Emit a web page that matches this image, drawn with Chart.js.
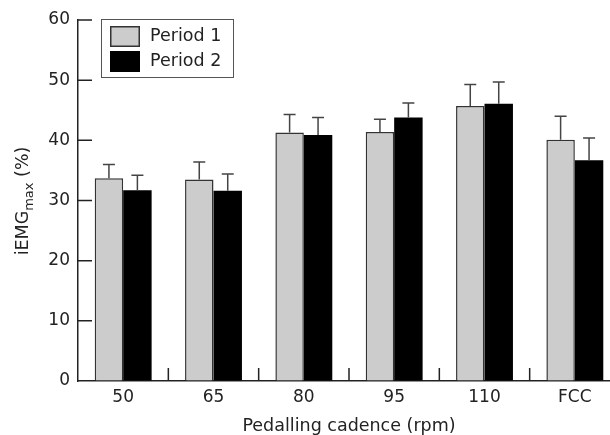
<!DOCTYPE html>
<html>
<head>
<meta charset="utf-8">
<script src="https://cdn.jsdelivr.net/npm/chart.js@4/dist/chart.umd.min.js"></script>
<style>
  html, body { margin: 0; padding: 0; background: #fff; overflow: hidden; }
  #wrap { width: 630px; height: 435px; }
</style>
</head>
<body>
<div id="wrap"><canvas id="emgChart" width="630" height="435"></canvas></div>
<script>
// Data
const cadences = ['50', '65', '80', '95', '110', 'FCC'];
const period1 = [33.7, 33.5, 41.3, 41.4, 45.7, 40.1];
const period2 = [31.7, 31.6, 40.9, 43.8, 46.1, 36.7];
const period1Err = [2.3, 2.9, 3.0, 2.1, 3.6, 3.9];
const period2Err = [2.5, 2.8, 2.9, 2.4, 3.6, 3.7];
const yTicks = [0, 10, 20, 30, 40, 50, 60];

const FONT = '"DejaVu Sans", sans-serif';
const INK = '#222';

// Upward error bars on top of each bar
const errorBars = {
    id: 'errorBars',
    afterDatasetsDraw(chart) {
        const ctx = chart.ctx;
        const y = chart.scales.y;
        chart.data.datasets.forEach((ds, i) => {
            const meta = chart.getDatasetMeta(i);
            meta.data.forEach((bar, j) => {
                const top = y.getPixelForValue(ds.data[j] + ds.errors[j]);
                ctx.save();
                ctx.strokeStyle = '#444';
                ctx.lineWidth = 1.5;
                ctx.beginPath();
                ctx.moveTo(bar.x, bar.y);
                ctx.lineTo(bar.x, top);
                ctx.moveTo(bar.x - 6, top);
                ctx.lineTo(bar.x + 6, top);
                ctx.stroke();
                ctx.restore();
            });
        });
    }
};

// Inward tick marks, y title with subscript, boxed legend
const decorations = {
    id: 'decorations',
    afterDraw(chart) {
        const ctx = chart.ctx;
        const x = chart.scales.x;
        const y = chart.scales.y;
        const area = chart.chartArea;
        ctx.save();
        ctx.strokeStyle = INK;
        ctx.lineWidth = 1.5;
        ctx.beginPath();
        yTicks.forEach(v => {
            if (v === 0) return;
            const py = y.getPixelForValue(v);
            ctx.moveTo(area.left, py);
            ctx.lineTo(area.left + 14, py);
        });
        for (let i = 1; i < cadences.length; i++) {
            const px = (x.getPixelForValue(i - 1) + x.getPixelForValue(i)) / 2;
            ctx.moveTo(px, area.bottom);
            ctx.lineTo(px, area.bottom - 13);
        }
        ctx.stroke();

        // y title: iEMG_max (%)
        const mainFont = '17.5px ' + FONT;
        const subFont = '13px ' + FONT;
        ctx.font = mainFont;
        const w1 = ctx.measureText('iEMG').width;
        const w3 = ctx.measureText(' (%)').width;
        ctx.font = subFont;
        const w2 = ctx.measureText('max').width;
        const total = w1 + w2 + w3;
        ctx.translate(28, 201);
        ctx.rotate(-Math.PI / 2);
        ctx.fillStyle = INK;
        ctx.textBaseline = 'alphabetic';
        ctx.textAlign = 'left';
        let cx = -total / 2;
        ctx.font = mainFont;
        ctx.fillText('iEMG', cx, 0);
        cx += w1;
        ctx.font = subFont;
        ctx.fillText('max', cx, 5);
        cx += w2;
        ctx.font = mainFont;
        ctx.fillText(' (%)', cx, 0);
        ctx.restore();

        // legend
        ctx.save();
        ctx.strokeStyle = '#555';
        ctx.lineWidth = 1;
        ctx.strokeRect(101.5, 19.5, 132, 58);
        const rows = [26, 51];
        chart.data.datasets.forEach((ds, i) => {
            ctx.fillStyle = ds.backgroundColor;
            ctx.fillRect(110, rows[i], 30, 21);
            if (ds.borderWidth) {
                ctx.strokeStyle = ds.borderColor;
                ctx.lineWidth = 1.5;
                ctx.strokeRect(110.75, rows[i] + 0.75, 28.5, 19.5);
            }
            ctx.fillStyle = INK;
            ctx.font = '17.5px ' + FONT;
            ctx.textBaseline = 'middle';
            ctx.fillText(ds.label, 150, rows[i] + 10.5);
        });
        ctx.restore();
    }
};

new Chart(document.getElementById('emgChart'), {
    type: 'bar',
    data: {
        labels: cadences,
        datasets: [
            {
                label: 'Period 1',
                data: period1,
                errors: period1Err,
                backgroundColor: '#cccccc',
                borderColor: '#333',
                borderWidth: 1.5,
                borderSkipped: 'bottom'
            },
            {
                label: 'Period 2',
                data: period2,
                errors: period2Err,
                backgroundColor: '#000000',
                borderWidth: 0
            }
        ]
    },
    options: {
        responsive: false,
        animation: false,
        devicePixelRatio: 1,
        layout: { padding: { left: 0, top: 20, right: 10, bottom: 0 } },
        datasets: { bar: { categoryPercentage: 0.63, barPercentage: 1 } },
        plugins: {
            legend: { display: false },
            tooltip: { enabled: false }
        },
        scales: {
            x: {
                grid: { display: true, drawOnChartArea: false, drawTicks: false },
                border: { display: true, color: INK, width: 1.5 },
                ticks: { color: INK, font: { family: FONT, size: 17 }, padding: 6 },
                title: {
                    display: true,
                    text: 'Pedalling cadence (rpm)',
                    color: INK,
                    font: { family: FONT, size: 17.5, lineHeight: 1 },
                    padding: { top: 0, bottom: 0 }
                },
                afterFit(scale) { scale.height = 54; }
            },
            y: {
                min: 0,
                max: 60,
                afterBuildTicks(scale) { scale.ticks = yTicks.map(v => ({ value: v })); },
                grid: { display: true, drawOnChartArea: false, drawTicks: false },
                border: { display: true, color: INK, width: 1.5 },
                ticks: { color: INK, font: { family: FONT, size: 17 }, padding: 8 },
                afterFit(scale) { scale.width = 78; }
            }
        }
    },
    plugins: [errorBars, decorations]
});
</script>
</body>
</html>
